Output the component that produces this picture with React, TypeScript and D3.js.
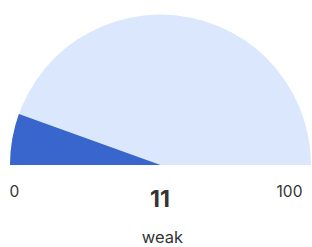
import React from "react";
import * as d3 from "d3";

const gaugeMin = [0];
const gaugeMax = [100];
const gaugeValue = [11];
const gaugeLabel = ["weak"];

const W = 312;
const H = 247;

export default function App() {
  const cx = 160.5;
  const cy = 165;
  const r = 150.5;
  const angle = d3
    .scaleLinear()
    .domain([gaugeMin[0], gaugeMax[0]])
    .range([-Math.PI / 2, Math.PI / 2]);
  const arc = d3.arc<any>().innerRadius(0).outerRadius(r);
  const bg = arc({ startAngle: angle(gaugeMin[0]), endAngle: angle(gaugeMax[0]) } as any) || "";
  const fg = arc({ startAngle: angle(gaugeMin[0]), endAngle: angle(gaugeValue[0]) } as any) || "";
  const font = "Inter, 'Noto Sans', sans-serif";
  return (
    <svg
      width={W}
      height={H}
      style={{ position: "absolute", left: 0, top: 0, display: "block" }}
    >
      <g transform={`translate(${cx},${cy})`}>
        <path d={bg} fill="#dbe7fc" />
        <path d={fg} fill="#3966cc" />
      </g>
      <text x={14.5} y={197} textAnchor="middle" fontFamily={font} fontSize={15.5} fill="#333">
        {gaugeMin[0]}
      </text>
      <text x={289.5} y={197} textAnchor="middle" fontFamily={font} fontSize={15.5} fill="#333">
        {gaugeMax[0]}
      </text>
      <text x={160} y={207} textAnchor="middle" fontFamily={font} fontSize={23} fontWeight="bold" fill="#333">
        {gaugeValue[0]}
      </text>
      <text x={162.5} y={243} textAnchor="middle" fontFamily={font} fontSize={16.5} fill="#333">
        {gaugeLabel[0]}
      </text>
    </svg>
  );
}
